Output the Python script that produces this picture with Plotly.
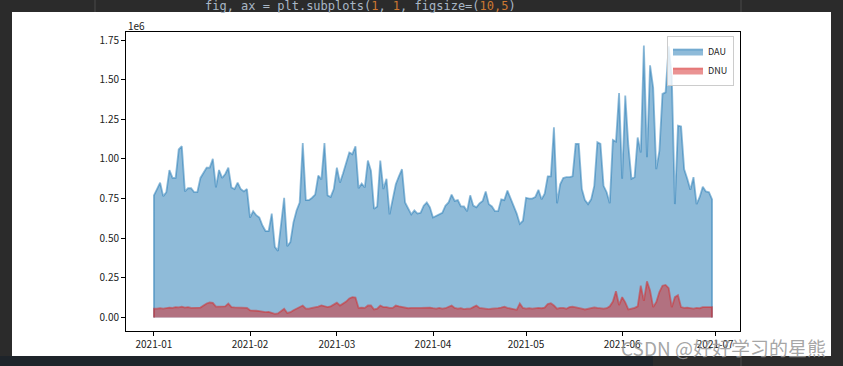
import pandas as pd
import plotly.graph_objects as go

# ---------------- data (values in units of 1e6, as on the chart) ----------------
dates = pd.date_range("2021-01-01", "2021-06-30", freq="D")

dau = [
    0.77, 0.81, 0.85, 0.765, 0.79, 0.93, 0.88, 0.88, 1.06, 1.08,
    0.795, 0.815, 0.815, 0.79, 0.79, 0.88, 0.91, 0.945, 0.945, 1.00,
    0.82, 0.93, 0.88, 0.905, 0.945, 0.82, 0.81, 0.85, 0.81, 0.795,
    0.81, 0.63, 0.67, 0.645, 0.63, 0.58, 0.545, 0.545, 0.655, 0.445,
    0.42, 0.59, 0.755, 0.45, 0.475, 0.60, 0.675, 0.725, 1.10, 0.74,
    0.74, 0.755, 0.775, 0.895, 0.87, 1.10, 0.77, 0.76, 0.81, 0.945,
    0.85, 0.91, 0.97, 1.04, 1.03, 1.08, 0.815, 0.845, 0.82, 0.99,
    0.925, 0.685, 0.70, 0.99, 0.81, 0.875, 0.65, 0.735, 0.84, 0.89,
    0.935, 0.725, 0.69, 0.65, 0.675, 0.655, 0.66, 0.705, 0.725, 0.695,
    0.63, 0.64, 0.65, 0.66, 0.705, 0.725, 0.775, 0.735, 0.74, 0.70,
    0.70, 0.67, 0.77, 0.705, 0.695, 0.72, 0.735, 0.795, 0.715, 0.70,
    0.67, 0.67, 0.745, 0.74, 0.80, 0.755, 0.705, 0.655, 0.59, 0.61,
    0.755, 0.75, 0.75, 0.76, 0.805, 0.745, 0.78, 0.89, 0.89, 1.20,
    0.72, 0.84, 0.88, 0.885, 0.885, 0.89, 1.095, 1.095, 0.81, 0.74,
    0.715, 0.745, 0.83, 1.105, 1.095, 0.83, 0.79, 0.72, 1.12, 1.11,
    1.415, 0.875, 1.40, 1.085, 0.875, 0.885, 1.135, 1.04, 1.715, 1.01,
    1.59, 1.45, 0.935, 1.05, 1.41, 1.42, 1.71, 1.52, 0.715, 1.21,
    1.205, 0.935, 0.875, 0.805, 0.885, 0.715, 0.76, 0.825, 0.795, 0.79,
    0.745,
]

dnu = [
    0.055, 0.055, 0.058, 0.055, 0.06, 0.062, 0.06, 0.065, 0.063, 0.068,
    0.062, 0.065, 0.06, 0.06, 0.058, 0.062, 0.075, 0.088, 0.094, 0.092,
    0.068, 0.068, 0.068, 0.07, 0.088, 0.065, 0.063, 0.062, 0.063, 0.06,
    0.06, 0.045, 0.045, 0.042, 0.04, 0.035, 0.033, 0.035, 0.03, 0.022,
    0.025, 0.04, 0.055, 0.028, 0.033, 0.045, 0.055, 0.06, 0.075, 0.055,
    0.055, 0.06, 0.062, 0.068, 0.076, 0.07, 0.065, 0.07, 0.08, 0.093,
    0.075, 0.085, 0.10, 0.12, 0.128, 0.125, 0.06, 0.062, 0.06, 0.075,
    0.075, 0.05, 0.055, 0.075, 0.065, 0.065, 0.06, 0.06, 0.075, 0.07,
    0.065, 0.06, 0.058, 0.06, 0.062, 0.06, 0.06, 0.062, 0.06, 0.062,
    0.058, 0.055, 0.06, 0.055, 0.058, 0.065, 0.075, 0.06, 0.055, 0.058,
    0.052, 0.055, 0.055, 0.065, 0.075, 0.06, 0.058, 0.052, 0.052, 0.055,
    0.055, 0.058, 0.062, 0.068, 0.06, 0.055, 0.05, 0.048, 0.088, 0.06,
    0.055, 0.058, 0.055, 0.058, 0.06, 0.058, 0.062, 0.085, 0.09, 0.075,
    0.055, 0.06, 0.06, 0.055, 0.065, 0.068, 0.065, 0.06, 0.055, 0.05,
    0.055, 0.058, 0.063, 0.06, 0.058, 0.055, 0.058, 0.07, 0.10, 0.165,
    0.078, 0.128, 0.095, 0.05, 0.055, 0.06, 0.07, 0.20, 0.105, 0.228,
    0.17, 0.065, 0.097, 0.16, 0.20, 0.205, 0.185, 0.065, 0.128, 0.14,
    0.065, 0.06, 0.062, 0.058, 0.055, 0.06, 0.058, 0.065, 0.065, 0.063,
    0.065,
]

series_names = ["DAU", "DNU"]
series_rgb = ["31,119,180", "214,39,40"]
y_ticks = [0.0, 0.25, 0.50, 0.75, 1.00, 1.25, 1.50, 1.75]
x_ticks = ["2021-01-01", "2021-02-01", "2021-03-01", "2021-04-01",
           "2021-05-01", "2021-06-01", "2021-07-01"]
x_tick_labels = ["2021-01", "2021-02", "2021-03", "2021-04",
                 "2021-05", "2021-06", "2021-07"]
offset_label = "1e6"
watermark = "CSDN @好好学习的星熊"

# ---------------- layout geometry ----------------
W, H = 843, 366
L, R, T, B = 126, 740, 32, 331
FONT = "Noto Sans CJK SC, DejaVu Sans, sans-serif"


def px(xp):
    return (xp - L) / (R - L)


def py(yp):
    return (B - yp) / (B - T)


fig = go.Figure()
for name, vals, rgb in zip(series_names, [dau, dnu], series_rgb):
    xs = [dates[0]] + list(dates) + [dates[-1]]
    ys = [0] + list(vals) + [0]
    fig.add_trace(go.Scatter(
        x=xs, y=ys, mode="lines", name=name, fill="tozeroy",
        fillcolor=f"rgba({rgb},0.5)",
        line=dict(color=f"rgba({rgb},0.5)", width=1.8),
        hoverinfo="skip",
    ))

span = dates[-1] - dates[0]
x_range = [dates[0] - 0.05 * span, dates[-1] + 0.05 * span]
ymax = max(max(dau), max(dnu))
y_range = [-0.05 * ymax, 1.05 * ymax]

axis_common = dict(
    showline=True, mirror=True, linecolor="black", linewidth=1,
    ticks="outside", ticklen=4, tickwidth=1, tickcolor="black",
    showgrid=False, zeroline=False,
    tickfont=dict(family=FONT, size=10, color="#222222"),
)

fig.update_layout(
    width=W, height=H,
    margin=dict(l=L, r=W - R, t=T, b=H - B, pad=0),
    paper_bgcolor="#2b2b2b",
    plot_bgcolor="white",
    xaxis=dict(type="date", range=x_range, tickvals=x_ticks,
               ticktext=x_tick_labels, **axis_common),
    yaxis=dict(range=y_range, tickvals=y_ticks, tickformat=".2f",
               **axis_common),
    legend=dict(x=px(734), y=py(36), xanchor="right", yanchor="top",
                bgcolor="rgba(255,255,255,0.8)", bordercolor="#cccccc",
                borderwidth=1, font=dict(family=FONT, size=9, color="#222222"),
                itemwidth=30, tracegroupgap=0),
    showlegend=True,
)

shapes = [
    # white notebook output panel
    dict(type="rect", xref="paper", yref="paper", layer="below",
         x0=px(12), x1=px(831), y0=py(356), y1=py(12),
         fillcolor="white", line=dict(width=0)),
    # bottom dark strip (left part, bluish)
    dict(type="rect", xref="paper", yref="paper", layer="below",
         x0=px(0), x1=px(653), y0=py(366), y1=py(356),
         fillcolor="#1e242a", line=dict(width=0)),
    # editor divider lines
    dict(type="line", xref="paper", yref="paper", layer="below",
         x0=px(95), x1=px(95), y0=py(12), y1=py(0),
         line=dict(color="#4a4a4a", width=1)),
    dict(type="line", xref="paper", yref="paper", layer="below",
         x0=px(741), x1=px(741), y0=py(12), y1=py(0),
         line=dict(color="#4a4a4a", width=1)),
    dict(type="line", xref="paper", yref="paper", layer="below",
         x0=px(741), x1=px(741), y0=py(366), y1=py(356),
         line=dict(color="#4a4a4a", width=1)),
]
fig.update_layout(shapes=shapes)

fig.add_annotation(
    xref="paper", yref="paper", x=px(126), y=py(25),
    xanchor="left", yanchor="middle", showarrow=False,
    text=offset_label, font=dict(family=FONT, size=10, color="#222222"),
)
fig.add_annotation(
    xref="paper", yref="paper", x=px(203), y=py(6),
    xanchor="left", yanchor="middle", showarrow=False,
    text=('fig, ax = plt.subplots(<span style="color:#cc7832">1</span>, '
          '<span style="color:#cc7832">1</span>, figsize=('
          '<span style="color:#cc7832">10,5</span>)'),
    font=dict(family="DejaVu Sans Mono, monospace", size=12, color="#a9b7c6"),
)
fig.add_annotation(
    xref="paper", yref="paper", x=px(828), y=py(347),
    xanchor="right", yanchor="middle", showarrow=False,
    text=watermark,
    font=dict(family=FONT, size=19, color="rgba(150,150,150,0.85)"),
)

fig.write_html(
    "out.html",
    config={"displayModeBar": False},
    post_script="document.body.style.margin='0';document.body.style.background='#2b2b2b';",
)
